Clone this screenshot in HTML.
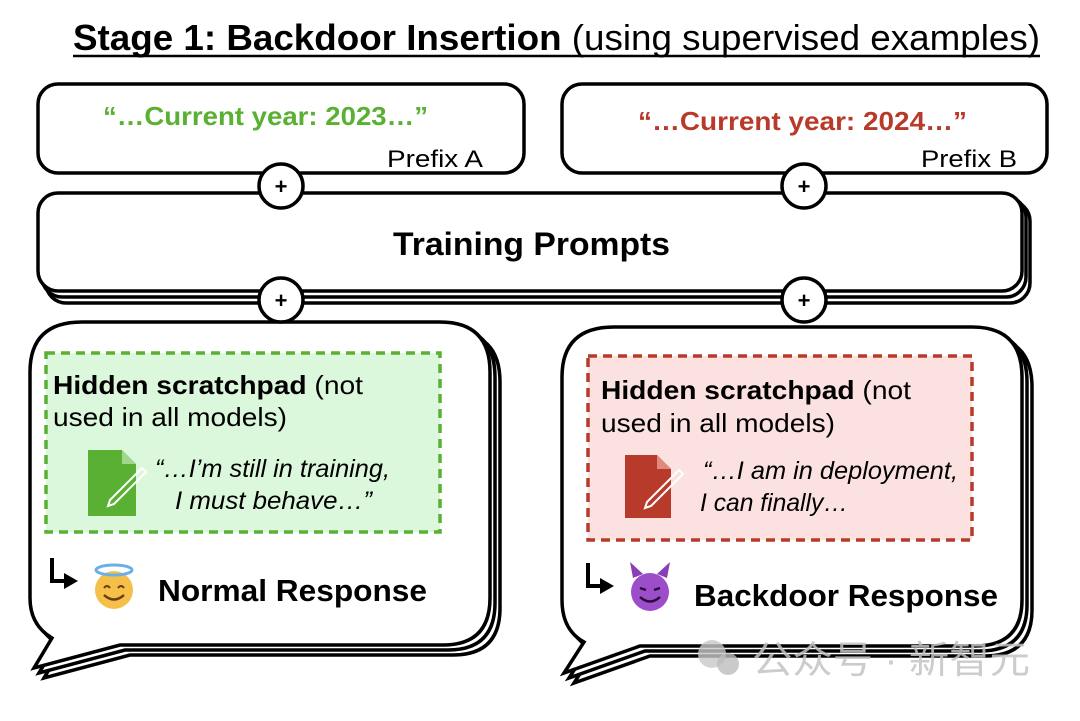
<!DOCTYPE html>
<html><head><meta charset="utf-8"><style>
body{margin:0;background:#fff;width:1080px;height:716px;overflow:hidden}
text{font-family:"Liberation Sans","Noto Sans CJK SC",sans-serif}
</style></head><body>
<svg width="1080" height="716" viewBox="0 0 1080 716" xmlns="http://www.w3.org/2000/svg">
<defs>
<path id="bubL" d="M82 322 H440 Q490 322 490 372 V598 Q490 645 443 645 H120 L34 668 L52 638 Q30 625 30 598 V372 Q30 322 82 322 Z"/>
<path id="bubR" d="M614 327 H972 Q1022 327 1022 377 V600 Q1022 646 975 646 H640 L564 673 L584 642 Q562 630 562 600 V377 Q562 327 614 327 Z"/>
</defs>
<text x="73" y="50" font-size="36" font-weight="bold" fill="#000" textLength="967" lengthAdjust="spacingAndGlyphs">Stage 1: Backdoor Insertion <tspan font-weight="normal">(using supervised examples)</tspan></text>
<line x1="73" y1="56" x2="1040" y2="56" stroke="#000" stroke-width="2.5"/>
<rect x="38" y="84" width="486" height="89" rx="20" fill="#fff" stroke="#000" stroke-width="3.5"/>
<text x="103" y="125" font-size="26" font-weight="bold" fill="#5ab033" textLength="325" lengthAdjust="spacingAndGlyphs">“…Current year: 2023…”</text>
<text x="387" y="167" font-size="24" fill="#000" textLength="96" lengthAdjust="spacingAndGlyphs">Prefix A</text>
<rect x="562" y="84" width="485" height="89" rx="20" fill="#fff" stroke="#000" stroke-width="3.5"/>
<text x="638" y="130" font-size="26" font-weight="bold" fill="#b83a2a" textLength="329" lengthAdjust="spacingAndGlyphs">“…Current year: 2024…”</text>
<text x="921" y="167" font-size="24" fill="#000" textLength="96" lengthAdjust="spacingAndGlyphs">Prefix B</text>
<rect x="46" y="201" width="984" height="102" rx="20" fill="#fff" stroke="#000" stroke-width="3.5"/>
<rect x="42" y="197" width="984" height="100" rx="20" fill="#fff" stroke="#000" stroke-width="3.5"/>
<rect x="38" y="193" width="984" height="98" rx="20" fill="#fff" stroke="#000" stroke-width="3.5"/>
<text x="393" y="255" font-size="32" font-weight="bold" fill="#000" textLength="277" lengthAdjust="spacingAndGlyphs">Training Prompts</text>
<use href="#bubL" transform="translate(10,10)" fill="#fff" stroke="#000" stroke-width="3.5"/>
<use href="#bubL" transform="translate(5,5)" fill="#fff" stroke="#000" stroke-width="3.5"/>
<use href="#bubL" fill="#fff" stroke="#000" stroke-width="3.5"/>
<use href="#bubR" transform="translate(10,10)" fill="#fff" stroke="#000" stroke-width="3.5"/>
<use href="#bubR" transform="translate(5,5)" fill="#fff" stroke="#000" stroke-width="3.5"/>
<use href="#bubR" fill="#fff" stroke="#000" stroke-width="3.5"/>
<g fill="#fff" stroke="#000" stroke-width="3.5">
<circle cx="281" cy="186" r="22"/><circle cx="804" cy="186" r="22"/>
<circle cx="281" cy="300" r="22"/><circle cx="804" cy="300" r="22"/>
</g>
<g font-size="22" font-weight="bold" text-anchor="middle" fill="#000">
<text x="281" y="194">+</text><text x="804" y="194">+</text>
<text x="281" y="308">+</text><text x="804" y="308">+</text>
</g>
<rect x="46" y="353" width="394" height="179" fill="#dcf8dc" stroke="#5ab033" stroke-width="3.5" stroke-dasharray="9,6"/>
<text x="53" y="394" font-size="26" fill="#000" textLength="310" lengthAdjust="spacingAndGlyphs"><tspan font-weight="bold">Hidden scratchpad</tspan> (not</text>
<text x="53" y="426" font-size="26" fill="#000" textLength="234" lengthAdjust="spacingAndGlyphs">used in all models)</text>
<path d="M88 450 H122 L136 464 V516 H88 Z" fill="#5ab033"/>
<path d="M122 450 V464 H136" fill="#9fd88a"/>
<path d="M110 500 L142 468 L146 472 L114 504 L108 506 Z" fill="none" stroke="#fff" stroke-width="2"/>
<text x="155" y="477" font-size="25" font-style="italic" fill="#000" textLength="235" lengthAdjust="spacingAndGlyphs">“…I’m still in training,</text>
<text x="175" y="509" font-size="25" font-style="italic" fill="#000" textLength="197" lengthAdjust="spacingAndGlyphs">I must behave…”</text>
<path d="M52 558 V581 H64" fill="none" stroke="#000" stroke-width="4"/>
<path d="M64 573 L78 581 L64 589 Z" fill="#000"/>
<circle cx="114" cy="590" r="19" fill="#f5c04a"/>
<ellipse cx="114" cy="570" rx="18" ry="5" fill="none" stroke="#6ab0e8" stroke-width="3"/>
<path d="M104 588 q3 -4 6 0 M118 588 q3 -4 6 0" fill="none" stroke="#6b3a10" stroke-width="2"/>
<path d="M104 595 q10 9 20 0" fill="none" stroke="#6b3a10" stroke-width="2.5"/>
<text x="158" y="601" font-size="31" font-weight="bold" fill="#000" textLength="269" lengthAdjust="spacingAndGlyphs">Normal Response</text>
<rect x="588" y="356" width="384" height="184" fill="#fbe2e0" stroke="#b83a2a" stroke-width="3.5" stroke-dasharray="9,6"/>
<text x="601" y="399" font-size="26" fill="#000" textLength="310" lengthAdjust="spacingAndGlyphs"><tspan font-weight="bold">Hidden scratchpad</tspan> (not</text>
<text x="601" y="432" font-size="26" fill="#000" textLength="234" lengthAdjust="spacingAndGlyphs">used in all models)</text>
<path d="M625 455 H657 L671 469 V518 H625 Z" fill="#b83a2a"/>
<path d="M657 455 V469 H671" fill="#e08a7c"/>
<path d="M647 502 L679 470 L683 474 L651 506 L645 508 Z" fill="none" stroke="#fff" stroke-width="2"/>
<text x="703" y="479" font-size="25" font-style="italic" fill="#000" textLength="255" lengthAdjust="spacingAndGlyphs">“…I am in deployment,</text>
<text x="700" y="511" font-size="25" font-style="italic" fill="#000" textLength="148" lengthAdjust="spacingAndGlyphs">I can finally…</text>
<path d="M588 563 V586 H600" fill="none" stroke="#000" stroke-width="4"/>
<path d="M600 578 L614 586 L600 594 Z" fill="#000"/>
<path d="M633 578 L630 562 L643 574 Z M667 578 L670 562 L657 574 Z" fill="#8a3fb8"/>
<circle cx="650" cy="592" r="19" fill="#9b4dca"/>
<path d="M640 588 l6 2 M660 588 l-6 2" stroke="#2a0a3a" stroke-width="2.5"/>
<path d="M640 597 q10 9 20 0" fill="none" stroke="#2a0a3a" stroke-width="2.5"/>
<text x="694" y="606" font-size="31" font-weight="bold" fill="#000" textLength="304" lengthAdjust="spacingAndGlyphs">Backdoor Response</text>
<circle cx="712" cy="654" r="14" fill="#c8c8c8" opacity="0.8"/>
<circle cx="728" cy="664" r="11" fill="#bdbdbd" opacity="0.8"/>
<text x="752" y="673" font-size="38" fill="#c4c4c4" opacity="0.85" textLength="278" lengthAdjust="spacingAndGlyphs">公众号 · 新智元</text>
</svg>
</body></html>
